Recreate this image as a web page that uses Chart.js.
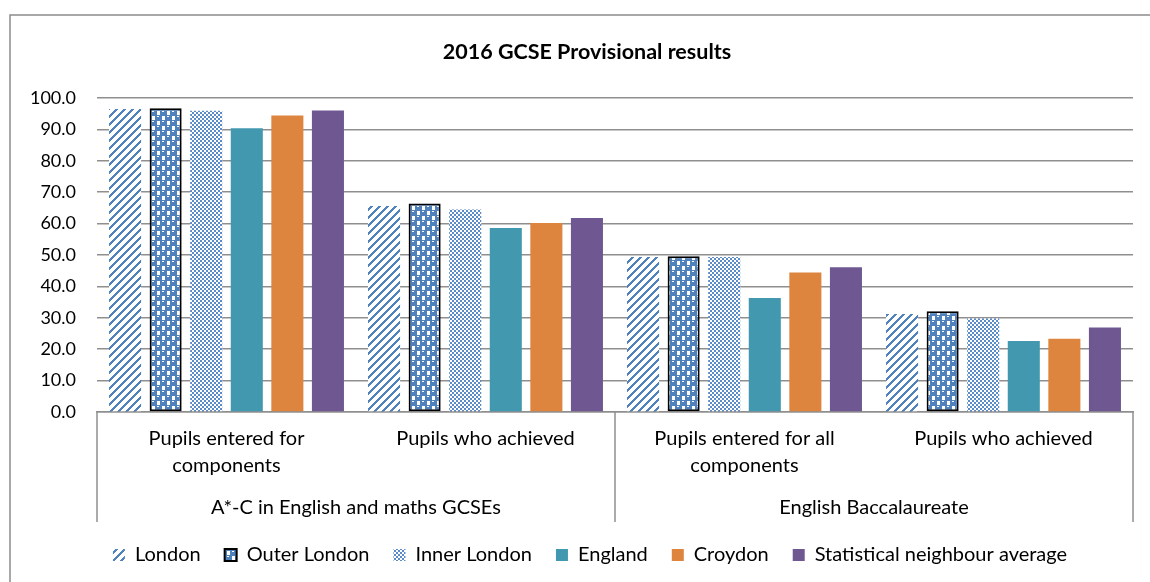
<!DOCTYPE html>
<html>
<head>
<meta charset="utf-8">
<script src="https://cdn.jsdelivr.net/npm/chart.js@4/dist/chart.umd.min.js"></script>
<style>
  html, body { margin: 0; padding: 0; background: #fff; }
  #wrap { width: 1150px; height: 582px; position: relative; }
</style>
</head>
<body>
<div id="wrap"><canvas id="c" width="1150" height="582"></canvas></div>
<script>
// ---- data ----
const categories = [
  ["Pupils entered for", "components"],
  ["Pupils who achieved"],
  ["Pupils entered for all", "components"],
  ["Pupils who achieved"]
];
const groupLabels = ["A*-C in English and maths GCSEs", "English Baccalaureate"];
const groupSizes = [2, 2];
const seriesNames = ["London", "Outer London", "Inner London", "England", "Croydon", "Statistical neighbour average"];
const london = [96.5, 65.6, 49.4, 31.2];
const outerLondon = [96.7, 66.4, 49.6, 32.1];
const innerLondon = [95.9, 64.5, 49.4, 29.8];
const england = [90.4, 58.6, 36.3, 22.6];
const croydon = [94.4, 60.2, 44.4, 23.3];
const statNeighbour = [96.0, 61.8, 46.1, 26.9];
const yTicks = [0, 10, 20, 30, 40, 50, 60, 70, 80, 90, 100];

const FONT = "Lato, 'Open Sans', sans-serif";
const BLUE = '#4F81BD';

function makePattern(w, h, draw) {
  const cv = document.createElement('canvas');
  cv.width = w; cv.height = h;
  const g = cv.getContext('2d');
  g.fillStyle = '#fff';
  g.fillRect(0, 0, w, h);
  draw(g);
  return document.getElementById('c').getContext('2d').createPattern(cv, 'repeat');
}
// diagonal stripes "/"
const stripePattern = makePattern(8, 8, g => {
  g.fillStyle = BLUE;
  for (let x = 0; x < 8; x++) for (let y = 0; y < 8; y++) {
    if (((x + y) % 8) < 3) g.fillRect(x, y, 1, 1);
  }
});
// sphere-like checker
const spherePattern = makePattern(10, 10, g => {
  const blob = (x, y) => {
    g.fillStyle = BLUE;
    g.fillRect(x + 1, y, 5, 6);
    g.fillRect(x, y + 1, 7, 4);
    g.fillStyle = '#fff';
    g.fillRect(x + 2, y + 1, 2, 1);
  };
  [[0, 0], [10, 0], [0, 10], [10, 10], [5, 5], [-5, 5], [5, -5], [-5, -5]].forEach(p => blob(p[0], p[1]));
});
// fine checker
const checkerPattern = makePattern(4, 4, g => {
  g.fillStyle = '#5b8bc9';
  g.fillRect(0, 0, 2, 2);
  g.fillRect(2, 2, 2, 2);
});

const seriesValues = [london, outerLondon, innerLondon, england, croydon, statNeighbour];
const seriesFills = [stripePattern, spherePattern, checkerPattern, '#4298AF', '#DD843E', '#6F5892'];
const seriesBorders = [0, 2, 0, 0, 0, 0];

const datasets = seriesNames.map((name, i) => ({
  label: name,
  data: seriesValues[i],
  backgroundColor: seriesFills[i],
  borderColor: '#000',
  borderWidth: seriesBorders[i],
  borderSkipped: false,
  categoryPercentage: 0.94,
  barPercentage: 0.79
}));

const hierAxisPlugin = {
  id: 'hierAxis',
  afterLayout(chart) {
    // nudge legend and title boxes to match the original centring
    if (chart.legend) { chart.legend.left += 9; chart.legend.right += 9; }
    if (chart.titleBlock) { chart.titleBlock.left += 6; chart.titleBlock.right += 6; }
  },
  afterDraw(chart) {
    const { ctx, chartArea } = chart;
    const xs = chart.scales.x;
    ctx.save();
    // outer frame (left & top visible)
    ctx.strokeStyle = '#8c8c8c';
    ctx.lineWidth = 1.5;
    ctx.beginPath();
    ctx.moveTo(10, 600);
    ctx.lineTo(10, 15);
    ctx.lineTo(1160, 15);
    ctx.stroke();

    // category labels
    ctx.fillStyle = '#000';
    ctx.font = '20px ' + FONT;
    ctx.textAlign = 'center';
    ctx.textBaseline = 'middle';
    categories.forEach((lines, i) => {
      const x = xs.getPixelForTick(i);
      lines.forEach((t, j) => ctx.fillText(t, x, chartArea.bottom + 27 + j * 27));
    });
    // group labels and separators
    const half = (xs.getPixelForTick(1) - xs.getPixelForTick(0)) / 2;
    let start = 0;
    const seps = [chartArea.left];
    groupLabels.forEach((g, k) => {
      const end = start + groupSizes[k] - 1;
      const x0 = xs.getPixelForTick(start) - half;
      const x1 = xs.getPixelForTick(end) + half;
      ctx.fillText(g, (x0 + x1) / 2, chartArea.bottom + 96);
      seps.push(x1);
      start = end + 1;
    });
    ctx.strokeStyle = '#8f8f8f';
    ctx.lineWidth = 1.5;
    seps.forEach(x => {
      ctx.beginPath();
      ctx.moveTo(x, chartArea.bottom);
      ctx.lineTo(x, chartArea.bottom + 110);
      ctx.stroke();
    });
    ctx.restore();
  }
};

new Chart(document.getElementById('c'), {
  type: 'bar',
  data: { labels: categories, datasets },
  options: {
    responsive: false,
    animation: false,
    layout: { padding: { left: 29, right: 17, top: 0, bottom: 7 } },
    plugins: {
      title: {
        display: true,
        text: '2016 GCSE Provisional results',
        color: '#000',
        font: { family: FONT, size: 21.5, weight: 'bold' },
        padding: { top: 39, bottom: 33.2 }
      },
      legend: {
        position: 'bottom',
        labels: {
          color: '#000',
          font: { family: FONT, size: 20 },
          boxWidth: 12,
          boxHeight: 12,
          padding: 24
        }
      },
      tooltip: { enabled: false }
    },
    scales: {
      x: {
        ticks: { display: false },
        grid: { display: false, drawTicks: false },
        border: { display: true, color: '#8f8f8f', width: 1.5 },
        afterFit(s) { s.height = 109; }
      },
      y: {
        min: 0, max: 100,
        afterBuildTicks(s) { s.ticks = yTicks.map(v => ({ value: v })); },
        ticks: {
          color: '#000',
          font: { family: FONT, size: 18 },
          padding: 21,
          callback: v => Number(v).toFixed(1)
        },
        grid: { color: '#8f8f8f', lineWidth: 1.5, drawTicks: false },
        border: { display: false },
        afterFit(s) { s.width = 68; }
      }
    }
  },
  plugins: [hierAxisPlugin]
});
</script>
</body>
</html>
